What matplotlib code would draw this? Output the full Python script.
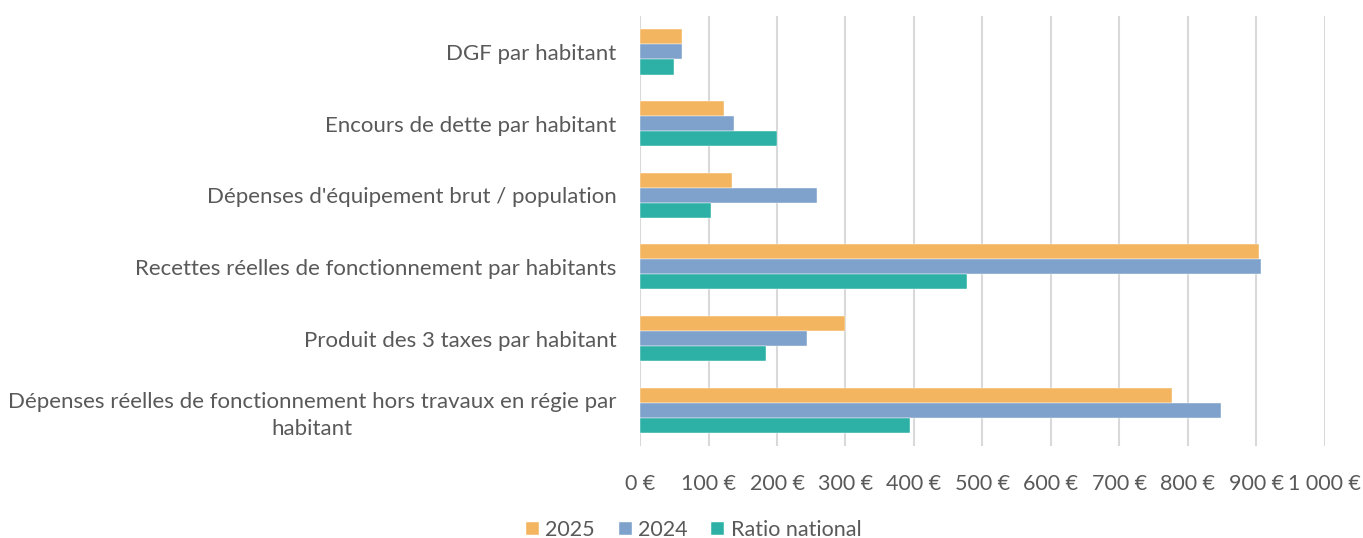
import matplotlib.pyplot as plt
import numpy as np
from matplotlib.ticker import FuncFormatter

plt.rcParams['font.family'] = ['Lato', 'DejaVu Sans']

categories = [
    "Dépenses réelles de fonctionnement hors travaux en régie par\nhabitant",
    "Produit des 3 taxes par habitant",
    "Recettes réelles de fonctionnement par habitants",
    "Dépenses d'équipement brut / population",
    "Encours de dette par habitant",
    "DGF par habitant",
]
vals_2025 = [777, 300, 904, 134, 123, 61]
vals_2024 = [848, 244, 907, 258, 137, 61]
vals_ratio = [394, 184, 477, 103, 200, 50]

series = [("2025", vals_2025, "#F3B55F"),
          ("2024", vals_2024, "#7FA2CC"),
          ("Ratio national", vals_ratio, "#2DB1A6")]

text_col = "#595959"
grid_col = "#D9D9D9"
fs = 16

fig = plt.figure(figsize=(13.63, 5.38), dpi=100)
ax = fig.add_axes([0.4696, 0.171, 0.5024, 0.799])

y = np.arange(len(categories))
h = 0.21
offsets = [h, 0, -h]
for (name, vals, col), off in zip(series, offsets):
    ax.barh(y + off, vals, height=h, color=col, label=name,
            edgecolor="white", linewidth=0.3)

ax.set_xlim(0, 1000)
ax.set_ylim(-0.5, len(categories) - 0.5)
ax.set_xticks(np.arange(0, 1001, 100))


def euro(v, pos):
    v = int(round(v))
    s = f"{v:,}".replace(",", "\u00a0")
    return f"{s} €"


ax.xaxis.set_major_formatter(FuncFormatter(euro))
ax.set_yticks(y)
ax.set_yticklabels(categories)
for lab in ax.get_yticklabels():
    lab.set_multialignment("center")
    lab.set_linespacing(1.45)

ax.grid(axis="x", color=grid_col, linewidth=1.5)
ax.set_axisbelow(True)
for s in ax.spines.values():
    s.set_visible(False)
ax.tick_params(axis="y", length=0, pad=17, labelsize=fs, labelcolor=text_col)
ax.tick_params(axis="x", length=0, pad=20, labelsize=fs - 0.5, labelcolor=text_col)

fig.legend(loc="lower center", bbox_to_anchor=(0.509, -0.04), ncol=3,
           frameon=False, fontsize=fs - 0.5, labelcolor=text_col,
           handlelength=0.6, handleheight=0.6, handletextpad=0.3,
           columnspacing=1.1)

fig.savefig("out.png", dpi=100)
